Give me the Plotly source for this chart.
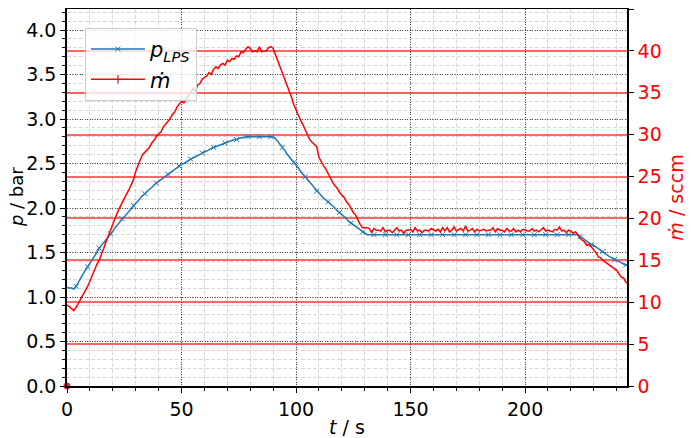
import plotly.graph_objects as go

# time axis (s)
t = list(range(0, 246))

# pressure p_LPS (bar)
p_lps = [
    1.11, 1.10, 1.10, 1.09, 1.12, 1.17, 1.22, 1.26, 1.30, 1.34,
    1.38, 1.42, 1.47, 1.51, 1.55, 1.58, 1.61, 1.64, 1.68, 1.71,
    1.74, 1.78, 1.81, 1.85, 1.88, 1.91, 1.94, 1.97, 2.00, 2.03,
    2.06, 2.08, 2.11, 2.14, 2.16, 2.19, 2.21, 2.23, 2.26, 2.28,
    2.30, 2.32, 2.34, 2.36, 2.38, 2.40, 2.42, 2.43, 2.45, 2.47,
    2.49, 2.50, 2.52, 2.53, 2.55, 2.56, 2.58, 2.59, 2.60, 2.62,
    2.63, 2.64, 2.66, 2.67, 2.68, 2.69, 2.70, 2.71, 2.72, 2.73,
    2.74, 2.75, 2.76, 2.77, 2.77, 2.78, 2.79, 2.79, 2.80, 2.80,
    2.80, 2.80, 2.80, 2.80, 2.80, 2.80, 2.80, 2.80, 2.80, 2.80,
    2.80, 2.78, 2.75, 2.71, 2.68, 2.65, 2.61, 2.58, 2.55, 2.51,
    2.48, 2.45, 2.41, 2.38, 2.35, 2.32, 2.28, 2.25, 2.22, 2.19,
    2.16, 2.14, 2.11, 2.09, 2.07, 2.04, 2.02, 2.00, 1.97, 1.95,
    1.93, 1.90, 1.88, 1.85, 1.83, 1.81, 1.79, 1.77, 1.75, 1.73,
    1.71, 1.70, 1.70, 1.70, 1.70, 1.70, 1.70, 1.70, 1.70, 1.70,
    1.70, 1.70, 1.70, 1.70, 1.70, 1.70, 1.70, 1.70, 1.70, 1.70,
    1.70, 1.70, 1.70, 1.70, 1.70, 1.70, 1.70, 1.70, 1.70, 1.70,
    1.70, 1.70, 1.70, 1.70, 1.70, 1.70, 1.70, 1.70, 1.70, 1.70,
    1.70, 1.70, 1.70, 1.70, 1.70, 1.70, 1.70, 1.70, 1.70, 1.70,
    1.70, 1.70, 1.70, 1.70, 1.70, 1.70, 1.70, 1.70, 1.70, 1.70,
    1.70, 1.70, 1.70, 1.70, 1.70, 1.70, 1.70, 1.70, 1.70, 1.70,
    1.70, 1.70, 1.70, 1.70, 1.70, 1.70, 1.70, 1.70, 1.70, 1.70,
    1.70, 1.70, 1.70, 1.70, 1.70, 1.70, 1.70, 1.70, 1.70, 1.70,
    1.70, 1.70, 1.70, 1.70, 1.68, 1.66, 1.64, 1.63, 1.61, 1.59,
    1.58, 1.56, 1.54, 1.52, 1.51, 1.49, 1.47, 1.45, 1.44, 1.42,
    1.41, 1.40, 1.38, 1.37, 1.36, 1.35,
]

# mass flow m-dot (sccm)
m_dot = [
    9.7, 9.5, 9.2, 9.0, 9.4, 9.9, 10.3, 10.8, 11.3, 11.9,
    12.5, 13.2, 13.9, 14.5, 15.0, 15.6, 16.4, 17.2, 17.9, 18.6,
    19.4, 20.2, 20.7, 21.3, 21.9, 22.5, 22.9, 23.4, 24.1, 24.6,
    25.6, 26.4, 27.0, 27.6, 27.9, 28.1, 28.5, 29.0, 29.3, 29.8,
    30.1, 30.3, 30.9, 31.2, 31.5, 31.9, 32.4, 32.7, 33.3, 33.6,
    34.0, 33.8, 34.3, 34.7, 35.0, 35.5, 35.2, 35.9, 36.1, 36.6,
    36.8, 37.0, 37.4, 37.2, 37.8, 38.1, 37.9, 38.3, 38.5, 38.3,
    38.9, 38.7, 39.1, 39.0, 39.4, 39.3, 39.9, 39.8, 40.2, 40.5,
    40.3, 39.9, 40.0, 39.9, 40.5, 39.9, 40.0, 40.0, 40.4, 40.5,
    40.3, 39.6, 38.8, 38.1, 37.3, 36.6, 35.9, 35.2, 34.5, 33.6,
    32.9, 32.3, 31.7, 31.2, 30.6, 30.1, 29.4, 29.1, 28.8, 28.6,
    27.3, 26.7, 26.3, 25.9, 25.3, 24.9, 24.3, 23.9, 23.6, 23.1,
    22.8, 22.5, 22.0, 21.7, 21.2, 20.7, 20.4, 19.8, 19.3, 18.9,
    18.9, 18.9, 18.8, 18.3, 18.8, 18.6, 18.6, 18.5, 18.9, 18.4,
    18.6, 18.6, 18.3, 18.6, 18.9, 18.5, 18.6, 18.2, 18.6, 18.6,
    18.7, 18.4, 18.9, 18.5, 18.6, 18.3, 18.6, 18.6, 18.5, 18.8,
    18.6, 18.5, 18.7, 18.4, 18.9, 18.5, 18.9, 18.4, 18.6, 19.0,
    18.5, 18.7, 18.8, 18.5, 19.1, 18.5, 18.6, 18.8, 18.4, 18.7,
    18.5, 18.6, 18.7, 18.5, 18.6, 18.6, 18.9, 18.4, 18.8, 18.6,
    18.6, 18.4, 18.8, 18.5, 18.5, 18.8, 18.4, 18.6, 18.4, 18.7,
    18.6, 18.5, 18.5, 18.8, 18.5, 18.6, 18.4, 18.6, 18.9, 18.5,
    18.6, 18.5, 18.4, 18.7, 18.6, 19.0, 18.5, 18.6, 18.3, 18.6,
    18.5, 18.2, 18.4, 18.1, 17.6, 17.4, 17.2, 16.8, 16.9, 16.6,
    16.3, 15.9, 15.4, 15.3, 15.0, 14.8, 14.7, 14.5, 14.2, 14.1,
    13.8, 13.4, 13.0, 12.9, 12.4, 12.2,
]

# single stray point at origin
origin_t = [0]
origin_m = [0]

x_ticks = [0, 50, 100, 150, 200]
p_ticks = [0.0, 0.5, 1.0, 1.5, 2.0, 2.5, 3.0, 3.5, 4.0]
m_ticks = [0, 5, 10, 15, 20, 25, 30, 35, 40, 45]

BLUE = "#1f77b4"
RED = "#ff0000"
FONT = "DejaVu Sans"

fig = go.Figure()

fig.add_trace(go.Scatter(x=t, y=p_lps, mode="lines", line=dict(color=BLUE, width=1.5),
                         showlegend=False, yaxis="y"))
fig.add_trace(go.Scatter(x=t[4::5], y=p_lps[4::5], mode="markers",
                         marker=dict(symbol="x-thin-open", size=5, color=BLUE,
                                     line=dict(color=BLUE, width=1)),
                         showlegend=False, yaxis="y"))
fig.add_trace(go.Scatter(x=t, y=m_dot, mode="lines", line=dict(color=RED, width=1.5),
                         showlegend=False, yaxis="y2"))
fig.add_trace(go.Scatter(x=origin_t, y=origin_m, mode="markers",
                         marker=dict(color="#e0303a", size=7),
                         showlegend=False, yaxis="y2", cliponaxis=False))

fig.add_trace(go.Scatter(x=[None], y=[None], mode="lines+markers",
                         name="<i>p</i><sub><i>LPS</i></sub>",
                         line=dict(color=BLUE, width=1.6),
                         marker=dict(symbol="x-thin-open", size=5, color=BLUE,
                                     line=dict(color=BLUE, width=1)),
                         yaxis="y"))
fig.add_trace(go.Scatter(x=[None], y=[None], mode="lines+markers",
                         name="<i>ṁ</i>",
                         line=dict(color=RED, width=1.6),
                         marker=dict(symbol="line-ns-open", size=6, color=RED,
                                     line=dict(color=RED, width=1.2)),
                         yaxis="y2"))

major_grid = "rgba(40,40,40,0.8)"
minor_grid = "rgba(170,170,170,0.45)"

# page body has an 8px margin, so the figure is sized to fit the 699x438 window
fig.update_layout(
    width=691, height=430,
    margin=dict(l=59, r=72, t=1, b=52),
    paper_bgcolor="white", plot_bgcolor="white",
    font=dict(family=FONT, size=19, color="black"),
    showlegend=True,
    legend=dict(x=0.032, y=0.95, xanchor="left", yanchor="top",
                bgcolor="rgba(255,255,255,0.8)", bordercolor="#cccccc", borderwidth=1,
                font=dict(family=FONT, size=21), tracegroupgap=0, itemwidth=54),
    xaxis=dict(
        range=[0, 244.5], tickvals=x_ticks, ticks="outside", ticklen=5, tickwidth=1,
        tickcolor="black", showline=True, linecolor="black", linewidth=1.5, mirror=True,
        showgrid=True, gridcolor=major_grid, griddash="1px,1.5px", gridwidth=1,
        zeroline=False, automargin=False,
        minor=dict(dtick=10, ticks="outside", ticklen=3, tickcolor="black",
                   showgrid=True, gridcolor=minor_grid, griddash="4px,2px", gridwidth=1),
        title=dict(text="<i>t</i> / s", font=dict(size=19), standoff=2),
    ),
    yaxis=dict(
        range=[0, 4.236], tickvals=p_ticks, tickformat=".1f", ticks="outside", ticklen=5,
        tickcolor="black", showline=True, linecolor="black", linewidth=1.5,
        showgrid=True, gridcolor=major_grid, griddash="1px,1.5px", gridwidth=1,
        zeroline=False, automargin=False,
        minor=dict(dtick=0.1, ticks="outside", ticklen=3, tickcolor="black",
                   showgrid=True, gridcolor=minor_grid, griddash="4px,2px", gridwidth=1),
    ),
    yaxis2=dict(
        overlaying="y", side="right", range=[0, 45], tickvals=m_ticks,
        ticks="outside", ticklen=5, tickcolor="black",
        tickfont=dict(color=RED, size=19),
        showline=True, linecolor="black", linewidth=1.5,
        showgrid=True, gridcolor="rgba(255,0,0,0.6)", gridwidth=1.5,
        zeroline=False, automargin=False,
    ),
    annotations=[
        dict(text="<i>p</i> / bar", xref="paper", yref="paper", x=-0.09, y=0.5,
             xanchor="center", yanchor="middle", textangle=-90, showarrow=False,
             font=dict(size=18, color="black")),
        dict(text="<i>ṁ</i> / sccm", xref="paper", yref="paper", x=1.086, y=0.5,
             xanchor="center", yanchor="middle", textangle=-90, showarrow=False,
             font=dict(size=19, color=RED)),
    ],
)

fig.write_html("out.html")
